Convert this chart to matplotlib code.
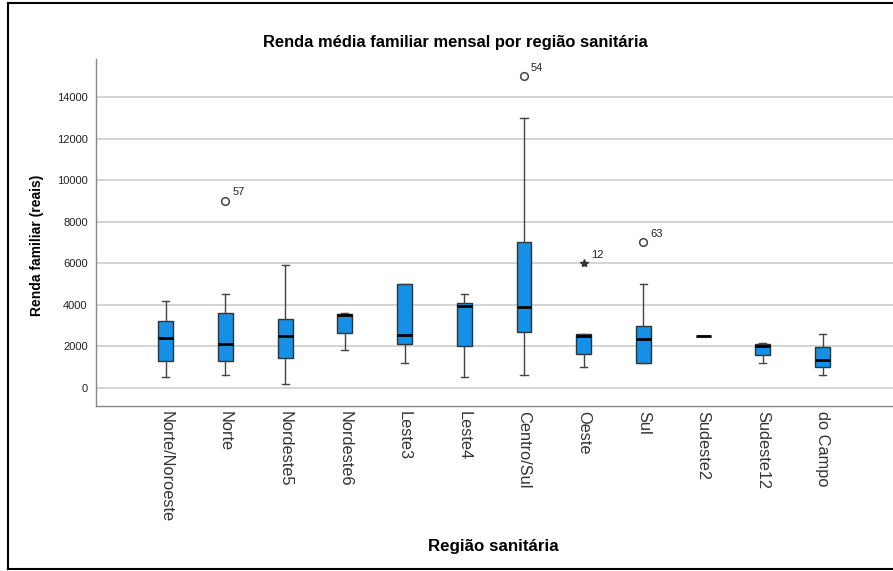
import numpy as np
import matplotlib
matplotlib.use("Agg")
import matplotlib.pyplot as plt
from matplotlib.lines import Line2D

plt.rcParams['font.family'] = ['Liberation Sans', 'DejaVu Sans']

regioes = ["Norte/Noroeste", "Norte", "Nordeste5", "Nordeste6", "Leste3", "Leste4",
           "Centro/Sul", "Oeste", "Sul", "Sudeste2", "Sudeste12", "do Campo"]
whislo = [500, 600, 200, 1800, 1200, 500, 600, 1000, 1200, 2500, 1200, 600]
q1 = [1300, 1300, 1450, 2620, 2100, 2000, 2700, 1650, 1200, 2500, 1600, 980]
med = [2400, 2100, 2480, 3500, 2550, 3950, 3900, 2500, 2370, 2500, 2020, 1350]
q3 = [3200, 3600, 3300, 3540, 5000, 4100, 7000, 2580, 3000, 2500, 2100, 1980]
whishi = [4200, 4500, 5900, 3600, 5000, 4500, 13000, 2580, 5000, 2500, 2180, 2600]
# outliers: (category index, value, case id, marker)
out_idx = [1, 6, 7, 8]
out_val = [9000, 15000, 6000, 7000]
out_id = ["57", "54", "12", "63"]
out_mk = ["o", "o", "*", "o"]

W, H = 893, 571
fig = plt.figure(figsize=(W / 100, H / 100), dpi=100)
ax = fig.add_axes([96 / W, 1 - 405.5 / H, (W - 96) / W, (405.5 - 59.5) / H])

pos = np.arange(1, len(regioes) + 1)
stats = []
for i in range(len(regioes)):
    stats.append(dict(whislo=whislo[i], q1=q1[i], med=med[i], q3=q3[i],
                      whishi=whishi[i], fliers=[]))

ax.bxp(stats, positions=pos, widths=0.25, patch_artist=True, showfliers=False,
       boxprops=dict(facecolor="#1590e6", edgecolor="#333333", linewidth=1.0),
       medianprops=dict(color="black", linewidth=2.0),
       whiskerprops=dict(color="#444444", linewidth=1.0),
       capprops=dict(color="#444444", linewidth=1.0),
       capwidths=0.12, zorder=3)

for i, v, lab, mk in zip(out_idx, out_val, out_id, out_mk):
    if mk == "o":
        ax.plot(pos[i], v, marker="o", ms=5.5, mfc="white", mec="#444444", mew=1.1, zorder=4)
    else:
        ax.plot(pos[i], v, marker="*", ms=6, color="#333333", zorder=4)
    ax.annotate(lab, (pos[i], v), xytext=(5, 4), textcoords="offset points",
                fontsize=8, color="#222222")

ax.set_xlim(1 - 1.167, 13.18)
ax.set_ylim(-850, 15810)
ax.set_yticks(np.arange(0, 14001, 2000))
ax.yaxis.grid(True, color="#d4d4d4", linewidth=1.4)
ax.set_axisbelow(True)
ax.tick_params(axis="both", length=0, labelsize=8, colors="#222222")
ax.tick_params(axis="y", pad=6)
ax.set_xticks(pos)
ax.set_xticklabels(regioes, rotation=270, fontsize=11.8, va="top", ha="center",
                   color="#333333")
ax.tick_params(axis="x", pad=4)
for s in ["top", "right"]:
    ax.spines[s].set_visible(False)
for s in ["left", "bottom"]:
    ax.spines[s].set_color("#888888")
    ax.spines[s].set_linewidth(1.0)

fig.text(455 / W, 1 - 43 / H, "Renda média familiar mensal por região sanitária",
         fontsize=11.9, fontweight="bold", ha="center", va="center")
fig.text(37 / W, 1 - 245 / H, "Renda familiar (reais)", fontsize=10, fontweight="bold",
         rotation=90, ha="center", va="center")
fig.text(493 / W, 1 - 547 / H, "Região sanitária", fontsize=12.2, fontweight="bold",
         ha="center", va="center")

# outer frame
fig.add_artist(Line2D([8 / W, 8 / W], [1 - 2.5 / H, 1 - 568.5 / H], color="black", lw=1.5,
                      transform=fig.transFigure))
fig.add_artist(Line2D([8 / W, 1], [1 - 2.5 / H, 1 - 2.5 / H], color="black", lw=1.5,
                      transform=fig.transFigure))
fig.add_artist(Line2D([8 / W, 1], [1 - 568.5 / H, 1 - 568.5 / H], color="black", lw=1.5,
                      transform=fig.transFigure))

fig.savefig("out.png", dpi=100)
